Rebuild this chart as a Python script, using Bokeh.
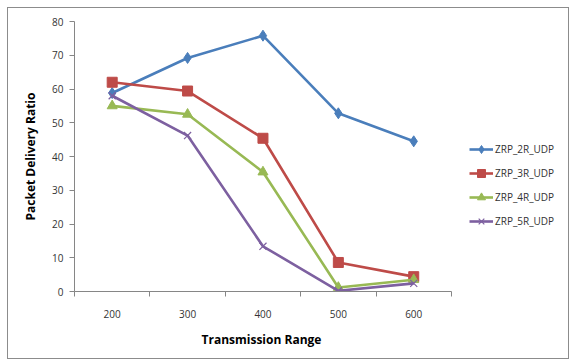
from bokeh.plotting import figure
from bokeh.models import Range1d, FixedTicker, Legend, LegendItem, Title
from bokeh.embed import file_html
from bokeh.resources import INLINE

# Transmission range categories and packet delivery ratio per ZRP configuration
ranges = [200, 300, 400, 500, 600]
zrp_2r = [58.8, 69.2, 75.8, 52.8, 44.5]
zrp_3r = [62.0, 59.4, 45.4, 8.6, 4.4]
zrp_4r = [55.0, 52.5, 35.4, 1.2, 3.5]
zrp_5r = [58.0, 46.2, 13.4, 0.2, 2.4]
series_names = ["ZRP_2R_UDP", "ZRP_3R_UDP", "ZRP_4R_UDP", "ZRP_5R_UDP"]
y_ticks = [0, 10, 20, 30, 40, 50, 60, 70, 80]

FONT = "Open Sans"

# the frame runs on to the right so the legend can sit beside the axes;
# the x axis itself is bounded to the 150..650 category span
p = figure(width=562, height=352, output_backend="svg", toolbar_location=None,
           x_range=Range1d(150, 800), y_range=Range1d(0, 80),
           min_border_left=66, min_border_right=6, min_border_top=13,
           min_border_bottom=69)
# chart area border around the whole drawing
p.styles = {"margin": "7px 0 0 7px", "border": "1px solid #8c8c8c"}
p.outline_line_color = None
p.grid.visible = False
p.background_fill_color = "white"
p.border_fill_color = "white"

# category ticks sit between categories, labels at the category centres
p.xaxis.bounds = (150, 650)
p.xaxis.ticker = FixedTicker(ticks=ranges, minor_ticks=[150, 250, 350, 450, 550, 650])
p.xaxis.major_tick_out = 0
p.xaxis.major_tick_in = 0
p.xaxis.minor_tick_out = 5
p.xaxis.minor_tick_in = 0
p.xaxis.minor_tick_line_color = "#868686"
p.xaxis.major_label_standoff = 13

p.yaxis.ticker = FixedTicker(ticks=y_ticks)
p.yaxis.major_tick_out = 5
p.yaxis.major_tick_in = 0
p.yaxis.minor_tick_line_color = None
p.yaxis.major_label_standoff = 6
p.yaxis.axis_label = "Packet Delivery Ratio"
p.yaxis.axis_label_standoff = 10

for ax in (p.xaxis, p.yaxis):
    ax.axis_line_color = "#868686"
    ax.major_tick_line_color = "#868686"
    ax.major_label_text_font = FONT
    ax.major_label_text_font_size = "10px"
    ax.major_label_text_color = "#333333"
    ax.axis_label_text_font = FONT
    ax.axis_label_text_font_size = "12px"
    ax.axis_label_text_font_style = "bold"
    ax.axis_label_text_color = "#000000"

# x axis title, centred under the bounded axis rather than the wider frame
x_title = Title(text="Transmission Range", align="left", offset=127,
                vertical_align="top", standoff=20,
                text_font=FONT, text_font_size="12px", text_font_style="bold",
                text_color="#000000")
p.add_layout(x_title, "below")

blue, red, green, purple = "#4a7ebb", "#be4b48", "#98b954", "#7d60a0"
lw = 2.6

l1 = p.line(ranges, zrp_2r, color=blue, line_width=lw)
m1 = p.scatter(ranges, zrp_2r, marker="diamond", size=11, color=blue)
l2 = p.line(ranges, zrp_3r, color=red, line_width=lw)
m2 = p.scatter(ranges, zrp_3r, marker="square", size=10, color=red)
l3 = p.line(ranges, zrp_4r, color=green, line_width=lw)
m3 = p.scatter(ranges, zrp_4r, marker="triangle", size=10, color=green)
l4 = p.line(ranges, zrp_5r, color=purple, line_width=lw)
m4 = p.scatter(ranges, zrp_5r, marker="x", size=10, line_color=purple, line_width=1.2)

legend = Legend(items=[
    LegendItem(label=series_names[0], renderers=[l1, m1]),
    LegendItem(label=series_names[1], renderers=[l2, m2]),
    LegendItem(label=series_names[2], renderers=[l3, m3]),
    LegendItem(label=series_names[3], renderers=[l4, m4]),
], location=(395, 60), orientation="vertical")
legend.border_line_color = None
legend.background_fill_alpha = 0
legend.margin = 0
legend.padding = 0
legend.spacing = 4
legend.glyph_width = 24
legend.glyph_height = 20
legend.label_height = 20
legend.label_standoff = 2
legend.label_text_font = FONT
legend.label_text_font_size = "10px"
legend.label_text_color = "#333333"
p.add_layout(legend, "center")

open("out.html", "w").write(file_html(p, INLINE))
